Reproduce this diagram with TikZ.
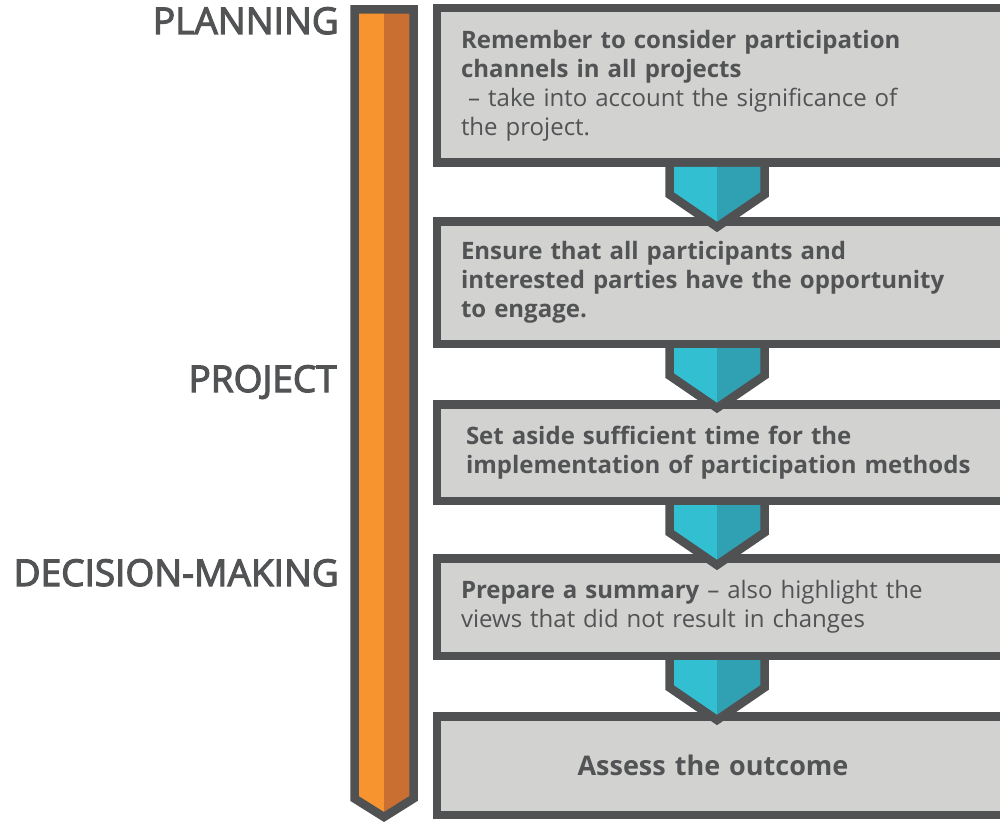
\documentclass[tikz,border=0pt]{standalone}
\usepackage{fontspec}
\setmainfont{Open Sans}
\newfontfamily\labelfont{Open Sans}[FakeBold=3]
\usepackage{tikz}
\usetikzlibrary{calc,positioning}
\definecolor{darkline}{HTML}{4F5153}
\definecolor{textgray}{HTML}{525355}
\definecolor{boxgray}{HTML}{D2D2D0}
\definecolor{barleft}{HTML}{F7942F}
\definecolor{barright}{HTML}{C86F31}
\definecolor{cyanleft}{HTML}{31BFD1}
\definecolor{cyanright}{HTML}{30A1B2}

\begin{document}
\begin{tikzpicture}[x=1pt, y=-1pt, line join=miter, line width=8.5pt]
   \useasboundingbox (0,0) rectangle (1000,821);
   % timeline bar
   \fill[barleft] (354.5,9.5) -- (384,9.5) -- (384,817) -- (354.5,798.5) -- cycle;
   \fill[barright] (384,9.5) -- (413.5,9.5) -- (413.5,798.5) -- (384,817) -- cycle;
   \draw[darkline] (354.5,9.5) -- (413.5,9.5) -- (413.5,798.5) -- (384,817) -- (354.5,798.5) -- cycle;
   \begin{scope}[every node/.style={anchor=base east, inner sep=0pt, text=textgray, font=\labelfont\fontsize{37}{40}\selectfont}]
    \node (planning) at (343,34) {PLANNING};
    \node (project) at (341,392) {PROJECT};
    \node (decision) at (343,586) {DECISION-MAKING};
   \end{scope}
   \begin{scope}[every node/.style={draw=darkline, fill=boxgray, anchor=north west, outer sep=0pt, inner xsep=24pt, inner ysep=0pt, text width=540pt, align=left, text=textgray, font=\fontsize{24}{29}\selectfont}]
    \node (box1) [minimum height=154.5pt] at (437,8.25) {\textbf{Remember to consider participation\\ channels in all projects}\\ \hspace*{0.3em}– take into account the significance of\\ the project.};
    \node (box2) [minimum height=122.5pt] at (437,221.25) {\textbf{Ensure that all participants and\\ interested parties have the opportunity\\ to engage.}};
    \node (box3) [minimum height=96.5pt, inner xsep=29pt] at (437,404.25) {\textbf{Set aside sufficient time for the\\ implementation of participation methods}};
    \node (box4) [minimum height=97.5pt] at (437,558.25) {\textbf{Prepare a summary} – also highlight the\\ views that did not result in changes};
    \node (box5) [minimum height=98.5pt, font=\fontsize{27}{30}\selectfont] at (437,716.25) {\makebox[504pt]{\textbf{Assess the outcome}}};
   \end{scope}
   % chevrons between the boxes
   \foreach \a in {1,...,4}{
    \coordinate (t\a) at (717,0 |- box\a.south);
    \fill[cyanleft] ([shift={(-47.5,4.25)}]t\a) -- ([shift={(0,4.25)}]t\a) -- ([shift={(0,64.25)}]t\a) -- ([shift={(-47.5,31.75)}]t\a) -- cycle;
    \fill[cyanright] ([shift={(0,4.25)}]t\a) -- ([shift={(47.5,4.25)}]t\a) -- ([shift={(47.5,31.75)}]t\a) -- ([shift={(0,64.25)}]t\a) -- cycle;
    \draw[darkline] ([shift={(-47.5,0)}]t\a) -- ([shift={(-47.5,31.75)}]t\a) -- ([shift={(0,64.25)}]t\a) -- ([shift={(47.5,31.75)}]t\a) -- ([shift={(47.5,0)}]t\a);
   }
\end{tikzpicture}
\end{document}
